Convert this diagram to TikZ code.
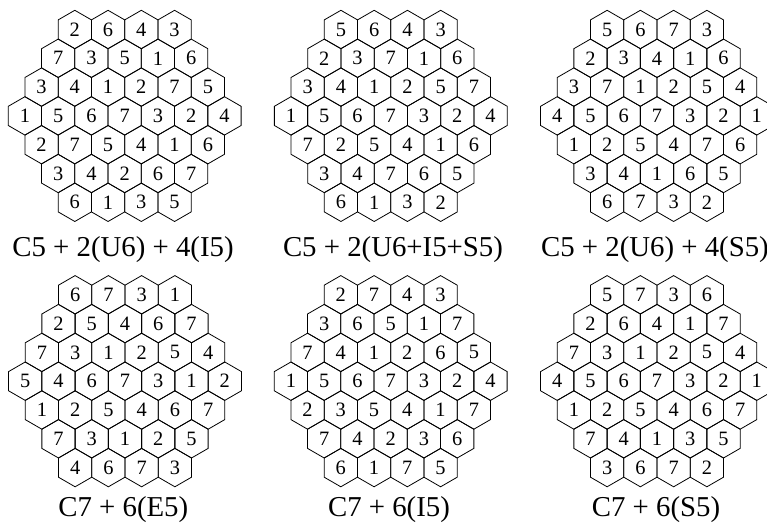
\documentclass[tikz,border=0pt]{standalone}
\usepackage{fontspec}
\setmainfont{Liberation Serif}
\usepackage{tikz}
\usetikzlibrary{shapes.geometric}

% one hexagonal board: name, centre, rows from top to bottom
\newcommand{\hexgrid}[3]{%
  \begin{scope}[shift={#2}]
    \foreach \row [count=\r] in {#3} {
      \pgfmathtruncatemacro{\n}{7-abs(\r-4)}
      \foreach \v [count=\c] in \row
        \node (#1-\r-\c) at ({(\c-(\n+1)/2)*33.26},{(\r-4)*28.8}) {\v};
    }
  \end{scope}}

\begin{document}
\begin{tikzpicture}[x=0.5pt,y=-0.5pt]
        \clip (0,0) rectangle (767,523);

        \begin{scope}[every node/.style={regular polygon,regular polygon sides=6,
                      shape border rotate=30,minimum size=19.2pt,inner sep=0pt,
                      outer sep=0pt,draw,thin,font=\fontsize{10.2}{11}\selectfont}]
            \hexgrid{A}{(124.7,115.9)}{{2,6,4,3},{7,3,5,1,6},{3,4,1,2,7,5},
                {1,5,6,7,3,2,4},{2,7,5,4,1,6},{3,4,2,6,7},{6,1,3,5}}
            \hexgrid{B}{(390.8,115.9)}{{5,6,4,3},{2,3,7,1,6},{3,4,1,2,5,7},
                {1,5,6,7,3,2,4},{7,2,5,4,1,6},{3,4,7,6,5},{6,1,3,2}}
            \hexgrid{C}{(657,115.9)}{{5,6,7,3},{2,3,4,1,6},{3,7,1,2,5,4},
                {4,5,6,7,3,2,1},{1,2,5,4,7,6},{3,4,1,6,5},{6,7,3,2}}
            \hexgrid{D}{(125,381.2)}{{6,7,3,1},{2,5,4,6,7},{7,3,1,2,5,4},
                {5,4,6,7,3,1,2},{1,2,5,4,6,7},{7,3,1,2,5},{4,6,7,3}}
            \hexgrid{E}{(390.7,381.2)}{{2,7,4,3},{3,6,5,1,7},{7,4,1,2,6,5},
                {1,5,6,7,3,2,4},{2,3,5,4,1,7},{7,4,2,3,6},{6,1,7,5}}
            \hexgrid{F}{(657,381.2)}{{5,7,3,6},{2,6,4,1,7},{7,3,1,2,5,4},
                {4,5,6,7,3,2,1},{1,2,5,4,6,7},{7,4,1,3,5},{3,6,7,2}}
        \end{scope}

        \begin{scope}[every node/.style={anchor=base,inner sep=0pt,
                      font=\fontsize{14.4}{16}\selectfont}]
            \node (capA) at (123,257) {C5 + 2(U6) + 4(I5)};
            \node (capB) at (393,257) {C5 + 2(U6+I5+S5)};
            \node (capC) at (655,257) {C5 + 2(U6) + 4(S5)};
            \node (capD) at (123.3,517) {C7 + 6(E5)};
            \node (capE) at (389,517) {C7 + 6(I5)};
            \node (capF) at (656,517) {C7 + 6(S5)};
        \end{scope}
    \end{tikzpicture}
\end{document}
